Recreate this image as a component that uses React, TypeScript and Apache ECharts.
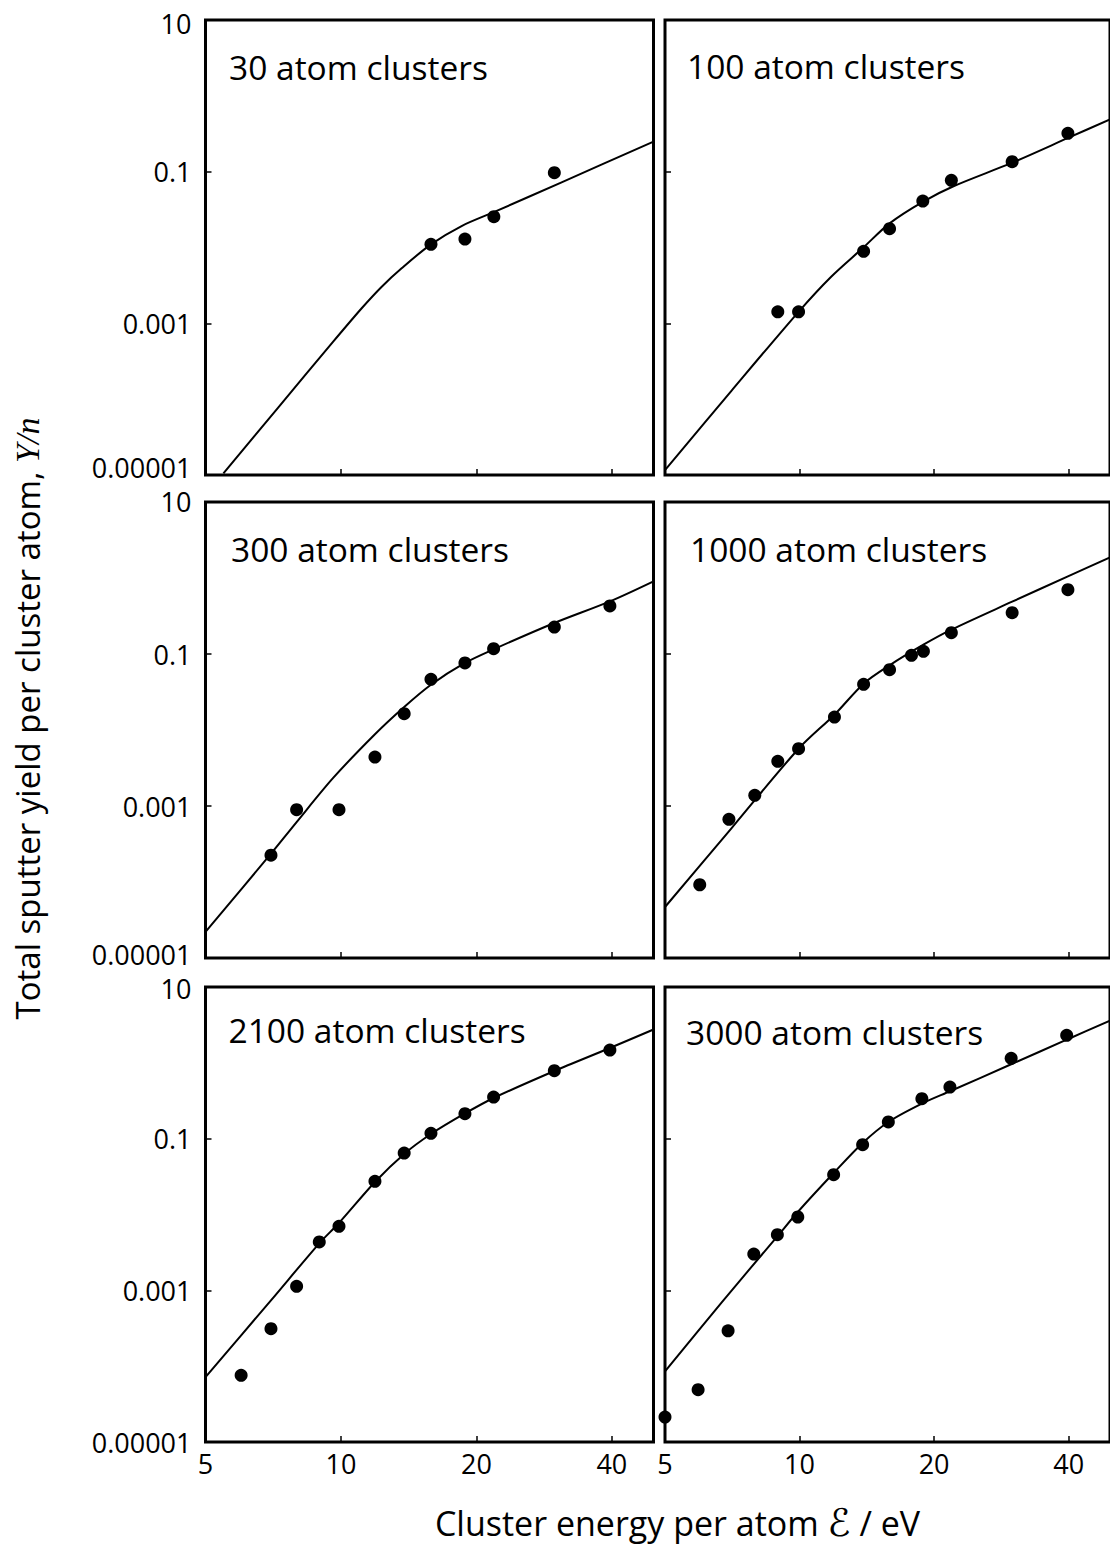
import React, { useEffect, useRef } from "react";
import * as echarts from "echarts";

// ---------- axes ----------
const X_MIN = 5;
const X_MAX = 49.5;
const Y_MIN = 0.00001;
const Y_MAX = 10;
const X_LABEL_VALUES = [5, 10, 20, 40];
const X_TICK_VALUES = [10, 20, 40];
const Y_LABEL_VALUES = [0.00001, 0.001, 0.1, 10];
const Y_TICK_VALUES = [0.001, 0.1];

const PANEL_TITLES = [
  "30 atom clusters",
  "100 atom clusters",
  "300 atom clusters",
  "1000 atom clusters",
  "2100 atom clusters",
  "3000 atom clusters",
];

// ---------- data (energy per atom in eV, yield per atom) ----------
const n30DotE = [15.85, 18.86, 21.87, 29.8];
const n30DotY = [0.011, 0.0129, 0.0255, 0.0969];
const n30FitE = [5.48, 7.26, 9.61, 11.12, 12.32, 13.64, 15.85, 18.54, 21.99, 30.93, 49.5];
const n30FitY = [1.05e-5, 7.81e-5, 5.73e-4, 1.58e-3, 3.04e-3, 5.32e-3, 0.011, 0.0192, 0.0297, 0.0724, 0.249];

const n100DotE = [8.94, 9.95, 13.91, 15.9, 18.87, 21.86, 29.9, 39.85];
const n100DotY = [1.42e-3, 1.42e-3, 8.91e-3, 0.0177, 0.041, 0.0769, 0.1352, 0.3206];
const n100FitE = [5, 7.04, 9.95, 11.77, 13.91, 15.9, 18.87, 22.16, 29.9, 40, 49.5];
const n100FitY = [1.16e-5, 1.29e-4, 1.42e-3, 4.12e-3, 0.01005, 0.0208, 0.04, 0.0647, 0.1313, 0.2805, 0.49];

const n300DotE = [6.99, 7.97, 9.9, 11.9, 13.82, 15.85, 18.86, 21.84, 29.8, 39.6];
const n300DotY = [2.25e-4, 8.93e-4, 8.93e-4, 4.41e-3, 0.0164, 0.0465, 0.0762, 0.1175, 0.2265, 0.4285];
const n300FitE = [5, 6.99, 7.97, 9.61, 11.9, 13.82, 15.85, 18.86, 21.84, 29.8, 39.6, 49.5];
const n300FitY = [2.2e-5, 2.36e-4, 6.15e-4, 2.34e-3, 8.8e-3, 0.0201, 0.0394, 0.0762, 0.1153, 0.256, 0.493, 0.905];

const n1000DotE = [5.98, 6.95, 7.94, 8.94, 9.95, 11.97, 13.91, 15.9, 17.8, 18.93, 21.86, 29.9, 39.85];
const n1000DotY = [9.2e-5, 6.68e-4, 1.38e-3, 3.87e-3, 5.67e-3, 0.0148, 0.0399, 0.0621, 0.0962, 0.1086, 0.1905, 0.349, 0.702];
const n1000FitE = [5, 7.04, 9.95, 11.97, 13.91, 15.9, 18.93, 21.86, 29.9, 39.85, 49.5];
const n1000FitY = [4.69e-5, 5.09e-4, 5.67e-3, 0.0159, 0.0407, 0.071, 0.1325, 0.209, 0.4876, 1.052, 1.87];

const n2100DotE = [6.0, 6.99, 7.97, 8.95, 9.9, 11.9, 13.82, 15.85, 18.86, 21.84, 29.8, 39.6];
const n2100DotY = [7.57e-5, 3.12e-4, 1.13e-3, 4.34e-3, 6.98e-3, 0.0274, 0.0647, 0.1177, 0.2134, 0.354, 0.787, 1.476];
const n2100FitE = [5, 6.99, 8.95, 9.9, 11.9, 13.82, 15.85, 18.86, 21.84, 29.8, 39.6, 49.5];
const n2100FitY = [7.19e-5, 7.38e-4, 4.17e-3, 7.73e-3, 0.0268, 0.0628, 0.1151, 0.2148, 0.3436, 0.78, 1.569, 2.75];

const n3000DotE = [5.0, 5.93, 6.92, 7.9, 8.92, 9.91, 11.92, 13.84, 15.8, 18.78, 21.7, 29.75, 39.6];
const n3000DotY = [2.13e-5, 4.89e-5, 2.93e-4, 3.01e-3, 5.41e-3, 9.27e-3, 0.0335, 0.0832, 0.166, 0.3365, 0.48, 1.148, 2.307];
const n3000FitE = [5, 6.69, 8.92, 9.91, 11.92, 13.84, 15.8, 18.78, 21.7, 29.75, 39.6, 49.5];
const n3000FitY = [8.55e-5, 6.9e-4, 5.15e-3, 0.01079, 0.0352, 0.0877, 0.166, 0.29, 0.4215, 0.957, 2.018, 3.6];

const DOT_E = [n30DotE, n100DotE, n300DotE, n1000DotE, n2100DotE, n3000DotE];
const DOT_Y = [n30DotY, n100DotY, n300DotY, n1000DotY, n2100DotY, n3000DotY];
const FIT_E = [n30FitE, n100FitE, n300FitE, n1000FitE, n2100FitE, n3000FitE];
const FIT_Y = [n30FitY, n100FitY, n300FitY, n1000FitY, n2100FitY, n3000FitY];

// ---------- layout ----------
const FONT = "'Open Sans', 'Noto Sans', sans-serif";
const COLS = [
  { left: 205.5, width: 448 },
  { left: 665, width: 447 },
];
const ROWS = [
  { top: 20, height: 455 },
  { top: 502, height: 456 },
  { top: 987, height: 455 },
];
// title anchor: left x, baseline y
const TITLE_POS = [
  [229, 80],
  [687, 78.5],
  [231, 562],
  [690, 562],
  [228.5, 1043],
  [686, 1044.5],
];
const TITLE_SIZE = 33.5;
const TICK_FONT = 27;
// vertical nudges of the end labels per row [top label, bottom label] (px, + = down)
const END_SHIFT = [
  [3, -8],
  [-1, -4],
  [1, 0],
];

function zipPairs(xs: number[], ys: number[]) {
  return xs.map((x, i) => [x, ys[i]]);
}

function yText(v: number) {
  if (v >= 1) return String(Math.round(v));
  const d = Math.round(-Math.log10(v));
  return v.toFixed(d);
}

function padFor(shift: number) {
  // shifting a middle-aligned label by `shift` px
  return shift >= 0 ? [2 * shift, 0, 0, 0] : [0, 0, -2 * shift, 0];
}

export default function App() {
  const ref = useRef<HTMLDivElement>(null);

  useEffect(() => {
    if (!ref.current) return;
    const chart = echarts.init(ref.current, undefined, { renderer: "svg" });

    const grids: any[] = [];
    const xAxes: any[] = [];
    const yAxes: any[] = [];
    const series: any[] = [];

    for (let i = 0; i < 6; i++) {
      const r = Math.floor(i / 2);
      const c = i % 2;
      grids.push({
        left: COLS[c].left,
        width: COLS[c].width,
        top: ROWS[r].top,
        height: ROWS[r].height,
        show: true,
        borderColor: "#000",
        borderWidth: 3,
        backgroundColor: "transparent",
      });
      const base = { fontSize: TICK_FONT, fontFamily: FONT, color: "#000" };
      xAxes.push({
        gridIndex: i,
        type: "log",
        logBase: 10,
        min: X_MIN,
        max: X_MAX,
        axisLine: { show: false },
        splitLine: { show: false },
        minorTick: { show: false },
        minorSplitLine: { show: false },
        axisTick: {
          show: true,
          inside: true,
          length: 6,
          customValues: X_TICK_VALUES,
          lineStyle: { color: "#000", width: 1.5 },
        },
        axisLabel: {
          show: r === 2,
          customValues: X_LABEL_VALUES,
          margin: 8,
          ...base,
          formatter: (v: number) => String(Math.round(v)),
        },
      });
      const [topShift, botShift] = END_SHIFT[r];
      yAxes.push({
        gridIndex: i,
        type: "log",
        logBase: 10,
        min: Y_MIN,
        max: Y_MAX,
        axisLine: { show: false },
        splitLine: { show: false },
        minorTick: { show: false },
        minorSplitLine: { show: false },
        axisTick: {
          show: true,
          inside: true,
          length: 6,
          customValues: Y_TICK_VALUES,
          lineStyle: { color: "#000", width: 1.5 },
        },
        axisLabel: {
          show: c === 0,
          customValues: Y_LABEL_VALUES,
          margin: 14,
          ...base,
          formatter: (v: number) => {
            const lg = Math.log10(v);
            const t = yText(v);
            if (Math.abs(lg - 1) < 0.01) return "{hi|" + t + "}";
            if (Math.abs(lg + 5) < 0.01) return "{lo|" + t + "}";
            return "{n|" + t + "}";
          },
          rich: {
            n: { ...base },
            hi: { ...base, padding: padFor(topShift) },
            lo: { ...base, padding: padFor(botShift) },
          },
        },
      });
      series.push({
        type: "line",
        xAxisIndex: i,
        yAxisIndex: i,
        data: zipPairs(FIT_E[i], FIT_Y[i]),
        showSymbol: false,
        symbol: "none",
        smooth: 0.3,
        lineStyle: { color: "#000", width: 2 },
        silent: true,
        z: 3,
      });
      series.push({
        type: "scatter",
        xAxisIndex: i,
        yAxisIndex: i,
        data: zipPairs(DOT_E[i], DOT_Y[i]),
        symbol: "circle",
        symbolSize: 13,
        itemStyle: { color: "#000", opacity: 1 },
        clip: false,
        silent: true,
        z: 4,
      });
    }

    const graphics: any[] = PANEL_TITLES.map((t, i) => ({
      type: "text",
      x: TITLE_POS[i][0],
      y: TITLE_POS[i][1] - 0.388 * TITLE_SIZE,
      silent: true,
      style: {
        text: t,
        fontSize: TITLE_SIZE,
        fontFamily: FONT,
        fill: "#000",
        align: "left",
        verticalAlign: "middle",
      },
    }));

    graphics.push({
      type: "text",
      x: 27,
      y: 718.5,
      rotation: Math.PI / 2,
      silent: true,
      style: {
        text: "{a|Total sputter yield per cluster atom, }{b|Y/n}",
        align: "center",
        verticalAlign: "middle",
        fill: "#000",
        rich: {
          a: { fontSize: 33, fontFamily: FONT, fill: "#000" },
          b: {
            fontSize: 34,
            fontFamily: "'Liberation Serif', 'DejaVu Serif', serif",
            fontStyle: "italic",
            fill: "#000",
          },
        },
      },
    });

    graphics.push({
      type: "text",
      x: 677.5,
      y: 1522.5,
      silent: true,
      style: {
        text: "{a|Cluster energy per atom }{e|\u2130}{a| / eV}",
        align: "center",
        verticalAlign: "middle",
        fill: "#000",
        rich: {
          a: { fontSize: 34, fontFamily: FONT, fill: "#000" },
          e: {
            fontSize: 38,
            fontFamily: "'DejaVu Serif', 'DejaVu Sans', serif",
            fontStyle: "italic",
            fill: "#000",
          },
        },
      },
    });

    chart.setOption({
      animation: false,
      backgroundColor: "#fff",
      grid: grids,
      xAxis: xAxes,
      yAxis: yAxes,
      series,
      graphic: graphics,
    });

    return () => chart.dispose();
  }, []);

  return (
    <div
      ref={ref}
      style={{ position: "absolute", left: 0, top: 0, width: 1110, height: 1547 }}
    />
  );
}
